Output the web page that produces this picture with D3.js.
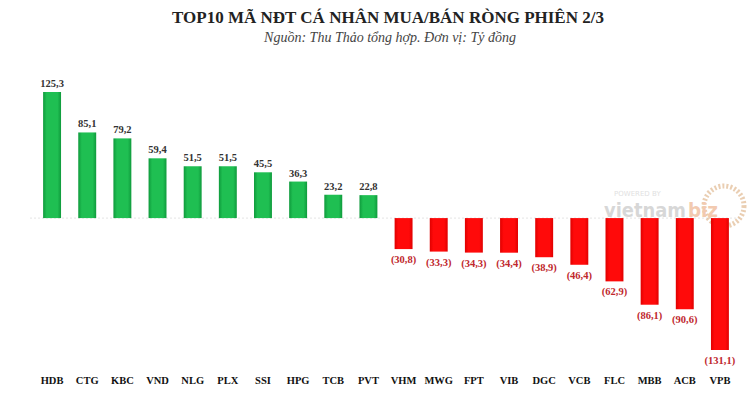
<!DOCTYPE html>
<html><head><meta charset="utf-8">
<script src="https://cdn.jsdelivr.net/npm/d3@7"></script>
<style>body{margin:0;background:#fff}</style>
</head><body><svg id="c" width="748" height="410"></svg>
<script>
const categories = ["HDB","CTG","KBC","VND","NLG","PLX","SSI","HPG","TCB","PVT","VHM","MWG","FPT","VIB","DGC","VCB","FLC","MBB","ACB","VPB"];
const values = [125.3,85.1,79.2,59.4,51.5,51.5,45.5,36.3,23.2,22.8,-30.8,-33.3,-34.3,-34.4,-38.9,-46.4,-62.9,-86.1,-90.6,-131.1];
const title = "TOP10 MÃ NĐT CÁ NHÂN MUA/BÁN RÒNG PHIÊN 2/3";
const subtitle = "Nguồn: Thu Thảo tổng hợp. Đơn vị: Tỷ đồng";

const svg = d3.select("#c");
const serif = "'Liberation Serif', 'DejaVu Serif', serif";
const x = d3.scaleBand().domain(categories).range([34.5, 737.5]).paddingInner(0.49).paddingOuter(0.245);
const y = d3.scaleLinear().domain([-131.1, 125.3]).range([350, 92]);

const defs = svg.append("defs");
const g1 = defs.append("linearGradient").attr("id","gg");
g1.append("stop").attr("offset","0%").attr("stop-color","#0f9a3c");
g1.append("stop").attr("offset","20%").attr("stop-color","#1fbf52");
g1.append("stop").attr("offset","80%").attr("stop-color","#1fbf52");
g1.append("stop").attr("offset","100%").attr("stop-color","#0f9a3c");
const g2 = defs.append("linearGradient").attr("id","rg");
g2.append("stop").attr("offset","0%").attr("stop-color","#e00000");
g2.append("stop").attr("offset","20%").attr("stop-color","#ff0a0a");
g2.append("stop").attr("offset","80%").attr("stop-color","#ff0a0a");
g2.append("stop").attr("offset","100%").attr("stop-color","#e00000");

svg.append("text").attr("x",388).attr("y",23).attr("text-anchor","middle")
  .attr("font-family",serif).attr("font-weight","bold").attr("font-size",17).attr("fill","#222").text(title);
svg.append("text").attr("x",390).attr("y",42).attr("text-anchor","middle")
  .attr("font-family",serif).attr("font-style","italic").attr("font-size",14).attr("fill","#444").text(subtitle);

// zero line
svg.append("line").attr("x1",30).attr("x2",740).attr("y1",y(0)).attr("y2",y(0))
  .attr("stroke","#e4e4e4").attr("stroke-width",1).attr("stroke-dasharray","2,2");

// watermark
const wm = svg.append("g").attr("opacity",0.55);
wm.append("circle").attr("cx",724).attr("cy",206).attr("r",20).attr("fill","none").attr("stroke","#d9a774").attr("stroke-width",5).attr("stroke-dasharray","2,2");
wm.append("text").attr("x",604).attr("y",217).attr("textLength",82).attr("lengthAdjust","spacingAndGlyphs").attr("font-family","'DejaVu Sans', sans-serif").attr("font-size",19).attr("font-weight","bold").attr("fill","#b8b8b8").text("vietnam");
wm.append("text").attr("x",688).attr("y",217).attr("textLength",30).attr("lengthAdjust","spacingAndGlyphs").attr("font-family","'DejaVu Sans', sans-serif").attr("font-size",19).attr("font-weight","bold").attr("fill","#e8a070").text("biz");
wm.append("text").attr("x",614).attr("y",196).attr("font-family","'DejaVu Sans', sans-serif").attr("font-size",7).attr("fill","#c8c8c8").text("POWERED BY");

const data = categories.map((c,i)=>({c, v: values[i]}));
svg.append("g").selectAll("rect").data(data).join("rect")
  .attr("x", d=>x(d.c)).attr("width", x.bandwidth())
  .attr("y", d=>y(Math.max(0,d.v))).attr("height", d=>Math.abs(y(d.v)-y(0)))
  .attr("fill", d=>d.v>=0?"url(#gg)":"url(#rg)");

const fmt = v => { const s = Math.abs(v).toFixed(1).replace(".", ","); return v<0 ? "("+s+")" : s; };
svg.append("g").selectAll("text").data(data).join("text")
  .attr("x", d=>x(d.c)+x.bandwidth()/2)
  .attr("y", d=> d.v>=0 ? y(d.v)-5 : y(d.v)+14)
  .attr("text-anchor","middle").attr("font-family",serif).attr("font-weight","bold").attr("font-size",10.5)
  .attr("fill", d=>d.v>=0?"#333":"#c0282d").text(d=>fmt(d.v));

const ax = svg.append("g").attr("transform","translate(0,384)").call(d3.axisBottom(x).tickSize(0).tickPadding(0));
ax.select(".domain").remove();
ax.selectAll("text").attr("font-family",serif).attr("font-weight","bold").attr("font-size",10.5).attr("fill","#111").attr("dy","0");
</script></body></html>
